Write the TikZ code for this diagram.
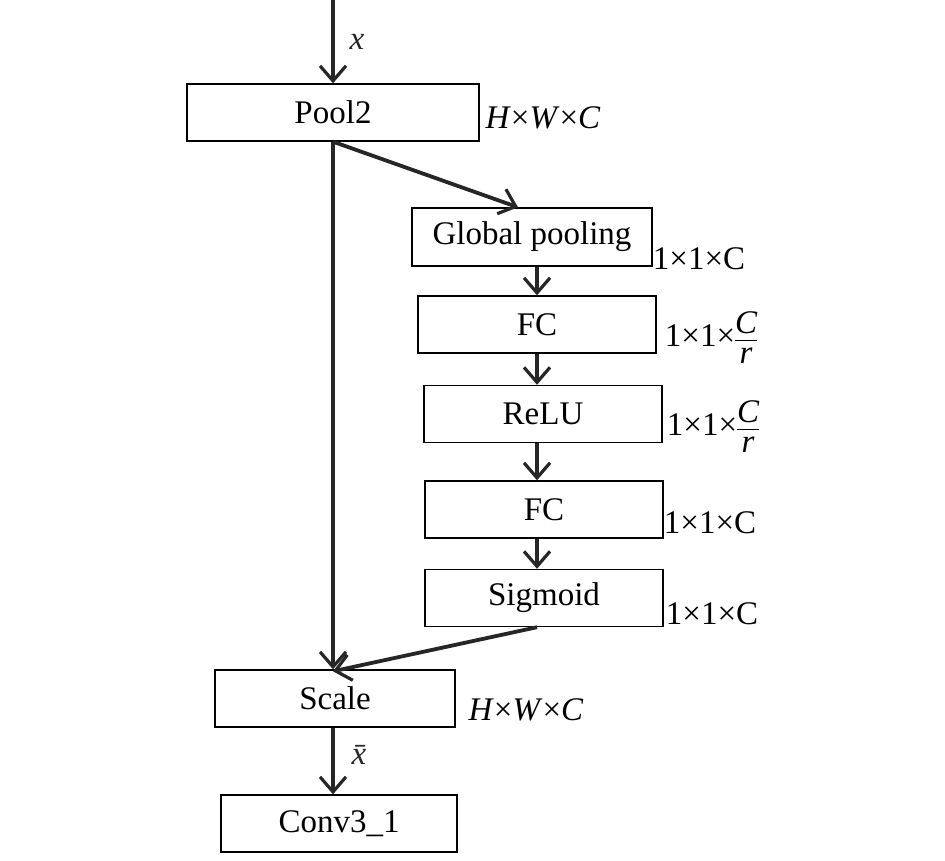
\documentclass[tikz,border=0pt]{standalone}
\usepackage{fontspec}
\setmainfont{Liberation Serif}
\usetikzlibrary{arrows.meta,positioning}

\newcommand{\fr}[2]{$\vcenter{\offinterlineskip\halign{\hfil##\hfil\cr\itshape #1\cr\noalign{\kern3pt\hrule height0.6pt\kern3.5pt}\itshape #2\cr}}$}

\begin{document}
\begin{tikzpicture}[
  x=0.5pt, y=-0.5pt,
  font=\fontsize{16.5}{19}\selectfont,
  box/.style={draw, line width=0.7pt, inner sep=0pt, minimum width=119pt, minimum height=28.5pt},
  arr/.style={-{Straight Barb[length=7.5pt,width=13pt,line width=1.6pt]}, line width=1.9pt, black!85},
  dim/.style={inner sep=0pt, anchor=center}
]
  \useasboundingbox (0,0) rectangle (945,860);

  \node[box, minimum width=146pt] (pool) at (333,112.5) {Pool2};
  \node[box, minimum width=120pt, minimum height=29pt] (gpool) at (532,237) {Global pooling};
  \node[box] (fca) at (537,324.5) {FC};
  \node[box] (relu) at (543,414) {ReLU};
  \node[box] (fcb) at (544,509.5) {FC};
  \node[box] (sigm) at (544,598) {Sigmoid};
  \node[box, minimum width=120pt] (scale) at (335,698.5) {Scale};
  \node[box, minimum width=118pt] (conv) at (339,823.5) {Conv3\_1};

  % sizes
  \node[dim] (dpool) at (543,118) {\textit{H}×\textit{W}×\textit{C}};
  \node[dim] (dgpool) at (699,259) {1×1×C};
  \node[dim] (dfca) at (711,338) {1×1×\fr{C}{r}};
  \node[dim] (drelu) at (713,427) {1×1×\fr{C}{r}};
  \node[dim] (dfcb) at (710,523) {1×1×C};
  \node[dim] (dsigm) at (712,614) {1×1×C};
  \node[dim] (dscale) at (526,710) {\textit{H}×\textit{W}×\textit{C}};

  \coordinate (in) at (333,0);
  \coordinate (axis) at (537,0);

  \draw[arr] (in) -- node[right=4pt] {\textit{x}} (pool.north);
  \draw[arr] (pool.south) -- (pool.south |- scale.north);
  \draw[arr] (pool.south) -- ([xshift=-7pt]gpool.north);
  \draw[arr] (gpool.south -| axis) -- (fca.north -| axis);
  \draw[arr] (fca.south -| axis) -- (relu.north -| axis);
  \draw[arr] (relu.south -| axis) -- (fcb.north -| axis);
  \draw[arr] (fcb.south -| axis) -- (sigm.north -| axis);
  \draw[arr] (sigm.south -| axis) -- ([yshift=-1pt]pool.south |- scale.north);
  \draw[arr] (scale.south -| pool.south) -- node[right=5pt, yshift=3pt] {\textit{\=x}} (pool.south |- conv.north);
\end{tikzpicture}
\end{document}
